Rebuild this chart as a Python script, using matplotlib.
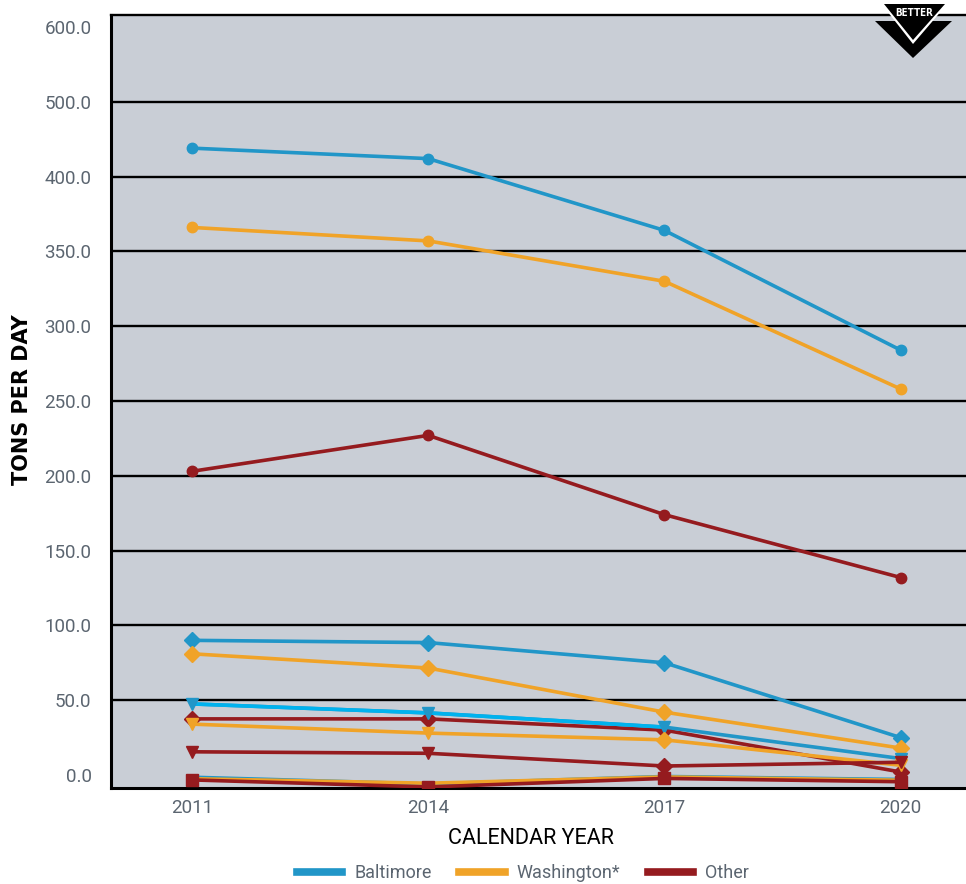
import matplotlib
matplotlib.use("Agg")
import matplotlib.pyplot as plt
from matplotlib.lines import Line2D
from matplotlib.patches import Polygon

# ---------------- data ----------------
years = [2011, 2014, 2017, 2020]
ytick_pos = [0, 50, 100, 150, 200, 250, 300, 350, 400, 450, 500]
ytick_labels = ["0.0", "50.0", "100.0", "150.0", "200.0", "250.0", "300.0",
                "350.0", "400.0", "500.0", "600.0"]

balt_circle = [419, 412, 364, 284]
wash_circle = [366, 357, 330, 258]
other_circle = [203, 227, 174, 132]

balt_diamond = [90, 88.5, 75, 25]
wash_diamond = [81, 71.5, 42, 18]
other_diamond = [37.5, 37.5, 30, 2]

balt_tri = [47.5, 41.5, 32, 11]
wash_tri = [34, 28, 23.5, 6.5]
other_tri = [15.5, 14.5, 6, 8.5]

balt_sq = [-1.5, -6, -1, -3]
wash_sq = [-2.5, -5.5, -1.3, -3.5]
other_sq = [-3.3, -8, -2.3, -4.5]

legend_names = ["Baltimore", "Washington*", "Other"]

# ---------------- style ----------------
BLUE = "#2196c8"
CYAN = "#00b2ee"
ORANGE = "#f0a328"
RED = "#951b1f"
BG = "#c9ced6"
TICK = "#5b6570"

plt.rcParams["font.family"] = ["Roboto", "DejaVu Sans"]

fig = plt.figure(figsize=(9.66, 8.84), dpi=100)
ax = fig.add_axes([111 / 966, 1 - 788 / 884, 1 - 111 / 966, (788 - 15) / 884])
ax.set_facecolor(BG)
ax.set_xlim(2009.97, 2020.83)
ax.set_ylim(-8.7, 508)

for y in ytick_pos[1:-1]:
    ax.axhline(y, color="black", lw=1.7, zorder=1)

lw = 2.6
# circles
for data, c in [(balt_circle, BLUE), (wash_circle, ORANGE), (other_circle, RED)]:
    ax.plot(years, data, color=c, lw=lw, marker="o", ms=7.5, zorder=3)
# diamonds
for data, c in [(balt_diamond, BLUE), (wash_diamond, ORANGE), (other_diamond, RED)]:
    ax.plot(years, data, color=c, lw=lw, marker="D", ms=8.5, zorder=3)
# triangles (the 2017 point of the Washington/Other series shows a diamond)
tri_sets = [(balt_tri, BLUE, ["v", "v", "v", "v"]),
            (wash_tri, ORANGE, ["v", "v", "D", "v"]),
            (other_tri, RED, ["v", "v", "D", "v"])]
for data, c, mks in tri_sets:
    ax.plot(years, data, color=c, lw=lw, zorder=3)
    if c == BLUE:
        ax.plot(years[:3], data[:3], color=CYAN, lw=lw, zorder=3)
    for xv, yv, m in zip(years, data, mks):
        ax.plot([xv], [yv], color=c, marker=m, ms=9 if m == "v" else 8.5,
                ls="none", zorder=3)
# squares
for data, c in [(balt_sq, BLUE), (wash_sq, ORANGE), (other_sq, RED)]:
    ax.plot(years, data, color=c, lw=lw, marker="s" if c == RED else None,
            ms=8.5, zorder=3)

ax.set_yticks(ytick_pos)
ax.set_yticklabels(ytick_labels)
ax.set_xticks(years)
ax.set_xticklabels([str(y) for y in years])
ax.tick_params(axis="both", length=0, labelsize=13.5, colors=TICK)
ax.tick_params(axis="y", pad=14)
ax.tick_params(axis="x", pad=8)

for s in ["left", "bottom", "top"]:
    ax.spines[s].set_linewidth(2.2)
    ax.spines[s].set_color("black")
ax.spines["right"].set_visible(False)
ax.spines["top"].set_linewidth(1.7)

fig.text(22 / 966, 1 - 400 / 884, "TONS PER DAY", rotation=90, ha="center",
         va="center", fontsize=15, fontweight="bold", family=["DejaVu Sans"],
         color="black")
fig.text(531 / 966, 1 - 838 / 884, "CALENDAR YEAR", ha="center", va="center",
         fontsize=15.5, color="black")

handles = [Line2D([0], [0], color=c, lw=5.5) for c in [BLUE, ORANGE, RED]]
fig.legend(handles, legend_names, loc="center", bbox_to_anchor=(523 / 966, 1 - 873 / 884),
           ncol=3, frameon=False, fontsize=13, handlelength=2.5, columnspacing=1.55,
           handletextpad=0.66, labelcolor=TICK)

# BETTER badge (figure pixel coordinates)
H = 884
W = 966
def P(x, y):
    return (x / W, 1 - y / H)
tf = fig.transFigure
fig.patches.append(Polygon([P(875, 21), P(952, 21), P(913, 58)], closed=True,
                           facecolor="black", edgecolor="none", transform=tf))
fig.patches.append(Polygon([P(880, 2), P(949, 2), P(913, 44)], closed=True,
                           facecolor="white", edgecolor="none", transform=tf))
fig.patches.append(Polygon([P(884, 4), P(945, 4), P(913, 40)], closed=True,
                           facecolor="black", edgecolor="none", transform=tf))
fig.text(914 / W, 1 - 13 / H, "BETTER", ha="center", va="center", color="white",
         fontsize=7, fontweight="bold", family=["DejaVu Sans"], stretch="condensed")

fig.savefig("out.png", dpi=100)
